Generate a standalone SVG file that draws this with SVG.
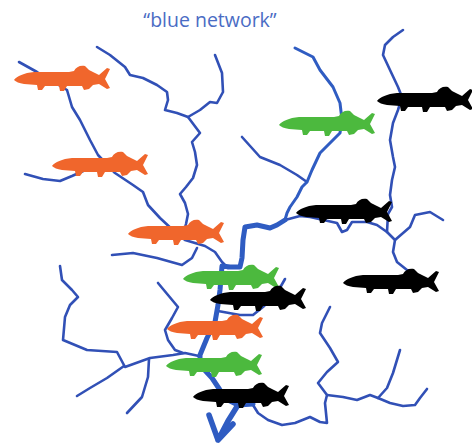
<svg xmlns="http://www.w3.org/2000/svg" width="472" height="444" viewBox="0 0 472 444">
  <style>
    .title { font-family: "Open Sans", "Noto Sans", "Liberation Sans", sans-serif; font-size: 19.5px; fill: #4a6cc4; }
    .trib { fill: none; stroke: #3150b6; stroke-width: 2.6; stroke-linejoin: round; stroke-linecap: round; }
    .main { fill: none; stroke: #2f5cc2; stroke-linejoin: round; stroke-linecap: round; }
    .orange { fill: #f0662c; }
    .green { fill: #4cb93e; }
    .black { fill: #000; }
  </style>
  <defs>
    <!-- pike silhouette, snout at (0,0), facing left, about 96 x 26 -->
    <path id="pike" d="M0,1 C3,-3 10,-6 20,-7 L55,-7 L60,-8 C62,-12 66,-14 71,-13 L75,-9 L81,-6 L85,-4 L93,-11 L96,-10 L91,0 L96,9 L93,10 L85,5 L79,6 L75,10 L70,11 L68,7 L53,7 L50,12 L46,12 L45,7 L31,7 L28,11 L24,11 L23,6 L10,5 C5,4 2,3 0,1 Z"/>
  </defs>
  <rect width="472" height="444" fill="#fff"/>
  <text class="title" x="210" y="27" text-anchor="middle">“blue network”</text>

  <g id="rivers">
    <!-- tributaries -->
    <path class="trib" d="M19,62 L37,72 L67,90 L72,107 L80,120 L90,140 L98,155 L115,173 L133,185 L143,192 L148,205 L160,218 L175,232 L185,240 L205,246 L215,252 L222,262 L228,268"/>
    <path class="trib" d="M25,174 L43,179 L60,181 L72,176 L90,168 L103,163"/>
    <path class="trib" d="M97,47 L110,55 L125,67 L130,75 L143,78 L157,85 L167,92 L168,100 L165,110 L177,113 L188,117 L200,133 L192,142 L195,152 L197,165 L193,178 L186,187 L180,194 L185,203 L188,214 L186,224 L183,235"/>
    <path class="trib" d="M188,117 L200,110 L210,102 L217,103 L223,92 L222,73 L215,55"/>
    <path class="trib" d="M112,255 L133,253 L157,258 L182,265 L192,258 L197,248"/>
    <path class="trib" d="M60,266 L62,280 L72,290 L78,297 L70,305 L65,317 L63,340 L87,350 L117,352 L125,367 L150,358 L173,355 L185,353 L199,356"/>
    <path class="trib" d="M124,366 L107,378 L90,388 L77,396"/>
    <path class="trib" d="M149,359 L148,377 L142,397 L127,413"/>
    <path class="trib" d="M158,283 L168,295 L178,307 L172,318 L165,330 L168,340 L175,350 L183,353"/>
    <path class="trib" d="M285,279 L277,293 L263,307 L253,315 L240,315 L218,311"/>
    <path class="trib" d="M242,137 L260,157 L280,165 L297,175 L307,182"/>
    <path class="trib" d="M403,30 L393,37 L385,45 L383,55 L390,70 L398,87 L402,97 L398,110 L393,123 L390,140 L393,157 L395,167 L392,180 L390,195 L392,207 L388,214 L387,232"/>
    <path class="trib" d="M285,220 L300,216 L310,217 L337,223 L342,232 L347,230 L352,222 L367,222 L377,225 L387,232 L395,240 L393,252 L397,262 L407,270 L415,273"/>
    <path class="trib" d="M395,240 L410,227 L415,215 L430,212 L443,220"/>
    <path class="trib" d="M330,307 L322,323 L320,333 L330,348 L338,362 L327,372 L318,383 L327,395 L325,403 L327,423 L320,422 L310,417 L295,423 L282,425 L268,420 L258,413 L253,405"/>
    <path class="trib" d="M327,395 L343,397 L357,400 L370,395 L378,398 L390,403 L403,406 L415,405 L420,398 L427,389"/>
    <path class="trib" d="M378,398 L387,388 L393,373 L400,350"/>
    <!-- main stream, widening downstream, ending in the outflow arrow -->
    <path class="main" stroke-width="3" d="M295,48 L313,57 L320,70 L333,87 L340,103 L342,120 L340,133 L330,143 L320,153 L312,170 L307,182 L302,187 L297,197 L290,207 L287,213 L285,220"/>
    <path class="main" stroke-width="5" d="M285,220 L277,225 L270,228 L257,225 L245,227 L243,240 L242,258 L240,267 L230,267 L222,266 L220,290 L218,305 L215,322 L207,338 L200,355 L200,365 L212,378 L220,390 L228,400 L238,405 L253,404"/>
    <path class="main" stroke-width="5.5" d="M238,405 L228,421 L218,440 M209,415 L218,440 L233,424"/>
  </g>

  <g id="fish-orange-1" class="orange"><use href="#pike" x="14" y="79"/></g>
  <g id="fish-orange-2" class="orange"><use href="#pike" x="52" y="165"/></g>
  <g id="fish-orange-3" class="orange"><use href="#pike" x="128" y="233"/></g>
  <g id="fish-green-2" class="green"><use href="#pike" x="183" y="278"/></g>
  <g id="fish-black-3" class="black"><use href="#pike" x="210" y="299"/></g>
  <g id="fish-orange-4" class="orange"><use href="#pike" x="167" y="328"/></g>
  <g id="fish-green-3" class="green"><use href="#pike" x="166" y="365"/></g>
  <g id="fish-black-5" class="black"><use href="#pike" x="193" y="396"/></g>
  <g id="fish-green-1" class="green"><use href="#pike" x="279" y="124"/></g>
  <g id="fish-black-1" class="black"><use href="#pike" x="377" y="100"/></g>
  <g id="fish-black-2" class="black"><use href="#pike" x="296" y="212"/></g>
  <g id="fish-black-4" class="black"><use href="#pike" x="343" y="282"/></g>
</svg>
